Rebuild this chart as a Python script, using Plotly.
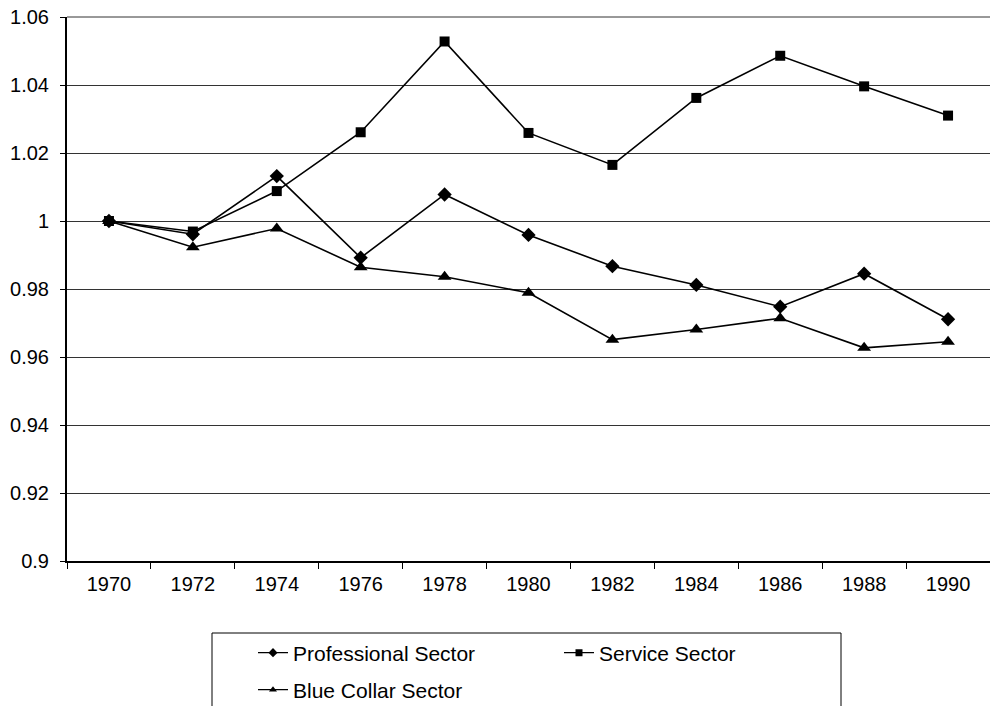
import plotly.graph_objects as go

years = ["1970", "1972", "1974", "1976", "1978", "1980", "1982", "1984", "1986", "1988", "1990"]
professional = [1.000, 0.9961, 1.0132, 0.9892, 1.0078, 0.9959, 0.9867, 0.9812, 0.9748, 0.9845, 0.9711]
service = [1.000, 0.9969, 1.0088, 1.0261, 1.0528, 1.0259, 1.0165, 1.0362, 1.0486, 1.0396, 1.0310]
blue_collar = [1.000, 0.9923, 0.9978, 0.9864, 0.9836, 0.9789, 0.9651, 0.9681, 0.9714, 0.9627, 0.9645]
y_ticks = [0.9, 0.92, 0.94, 0.96, 0.98, 1.0, 1.02, 1.04, 1.06]
y_tick_labels = ["0.9", "0.92", "0.94", "0.96", "0.98", "1", "1.02", "1.04", "1.06"]

W, H = 990, 706
L, R, T, B = 67, 0, 17, 145
pw, ph = W - L - R, H - T - B

def px_x(x):
    return (x - L) / pw

def px_y(y):
    return (H - B - y) / ph

def cx(x):
    return x / W

def cy(y):
    return (H - y) / H

FONT = "Liberation Sans, Arial, sans-serif"
line = dict(color="black", width=1.6)

series = [
    ("Professional Sector", professional, "diamond", 11, "legend"),
    ("Service Sector", service, "square", 10, "legend"),
    ("Blue Collar Sector", blue_collar, "triangle-up", 12, "legend2"),
]

fig = go.Figure()
for name, vals, sym, size, leg in series:
    fig.add_trace(go.Scatter(x=years, y=vals, name=name, mode="lines+markers", showlegend=False,
                             line=line, marker=dict(symbol=sym, size=size, color="black")))
for name, vals, sym, size, leg in series:
    # legend-only entry with the smaller key symbol used in the original legend
    fig.add_trace(go.Scatter(x=[None], y=[None], name=name, mode="lines+markers", legend=leg,
                             line=dict(color="black", width=1.3),
                             marker=dict(symbol=sym, size=7, color="black")))

legend_common = dict(orientation="h", xanchor="left", yanchor="middle", bgcolor="rgba(0,0,0,0)",
                     borderwidth=0, font=dict(family=FONT, size=21, color="black"),
                     entrywidth=261, entrywidthmode="pixels", xref="container", yref="container")

fig.update_layout(
    width=W, height=H,
    margin=dict(l=L, r=R, t=T, b=B),
    paper_bgcolor="white", plot_bgcolor="white",
    font=dict(family=FONT, size=20, color="black"),
    showlegend=True,
    legend=dict(x=cx(253), y=cy(653), **legend_common),
    legend2=dict(x=cx(253), y=cy(690), **legend_common),
    xaxis=dict(type="category", showgrid=False, showline=True, linecolor="black", linewidth=2,
               ticks="outside", tickson="boundaries", ticklen=6, tickcolor="black", tickwidth=1,
               tickfont=dict(family=FONT, size=20, color="black"), range=[-0.5, 10.5],
               ticklabelstandoff=4),
    yaxis=dict(range=[0.9, 1.06], tickvals=y_ticks, ticktext=y_tick_labels,
               showgrid=True, gridcolor="#333333", gridwidth=1,
               showline=True, linecolor="black", linewidth=2, zeroline=False,
               ticks="outside", ticklen=5, tickcolor="black", tickwidth=1,
               tickfont=dict(family=FONT, size=20, color="black"), ticklabelstandoff=7),
    shapes=[
        dict(type="rect", xref="paper", yref="paper", x0=px_x(212), x1=px_x(841),
             y0=px_y(633), y1=px_y(730), line=dict(color="black", width=1), fillcolor="rgba(0,0,0,0)"),
        dict(type="line", xref="paper", yref="paper", x0=0, x1=1, y0=1, y1=1,
             line=dict(color="#333333", width=1)),
    ],
)

fig.write_html("out.html", config={"displayModeBar": False},
               post_script="document.body.style.margin='0';document.body.style.overflow='hidden';")
